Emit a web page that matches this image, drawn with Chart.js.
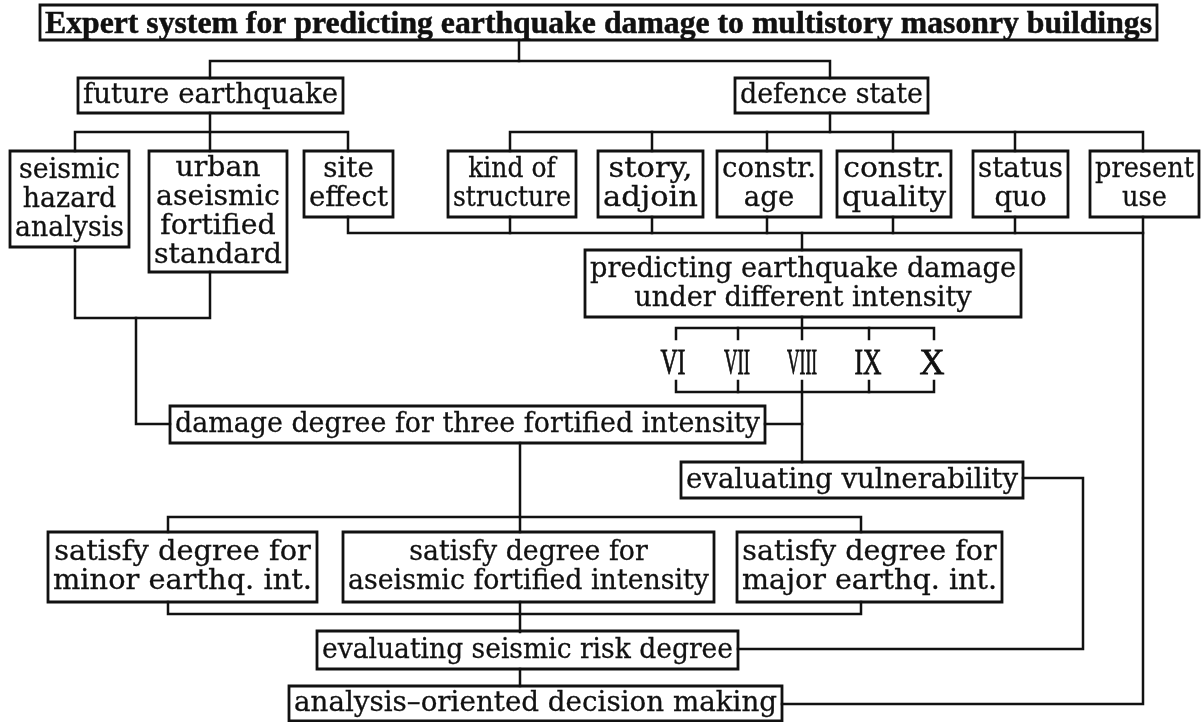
<!DOCTYPE html>
<html>
<head>
<meta charset="utf-8">
<script src="https://cdn.jsdelivr.net/npm/chart.js@4.4.1/dist/chart.umd.min.js"></script>
<style>
html,body{margin:0;padding:0;background:#fff;}
canvas{display:block;}
</style>
</head>
<body>
<canvas id="c" width="1201" height="722"></canvas>
<script>
// ---- Diagram content ----
const nodeText = [
  ["Expert system for predicting earthquake damage to multistory masonry buildings"],
  ["future earthquake"],
  ["defence state"],
  ["seismic","hazard","analysis"],
  ["urban","aseismic","fortified","standard"],
  ["site","effect"],
  ["kind of","structure"],
  ["story,","adjoin"],
  ["constr.","age"],
  ["constr.","quality"],
  ["status","quo"],
  ["present","use"],
  ["predicting earthquake damage","under different intensity"],
  ["damage degree for three fortified intensity"],
  ["evaluating vulnerability"],
  ["satisfy degree for","minor earthq. int."],
  ["satisfy degree for","aseismic fortified intensity"],
  ["satisfy degree for","major earthq. int."],
  ["evaluating seismic risk degree"],
  ["analysis\u2013oriented decision making"]
];
const intensityLabels = ["VI","VII","VIII","IX","X"];

// ---- Diagram layout (diagram units, drawn through the chart's scales) ----
const nodeLeft   = [40, 78, 735, 10, 149, 304, 448, 598, 717, 837, 973, 1090, 585, 170, 681, 48, 343, 737, 317, 289];
const nodeRight  = [1157,343, 928,129, 287, 393, 576, 703, 821, 951,1068, 1199,1021, 765,1023,317, 714,1002, 738, 782];
const nodeTop    = [5, 78, 78, 151, 151, 151, 151, 151, 151, 151, 151, 151, 250, 406, 462, 532, 532, 532, 631, 686];
const nodeBottom = [40,113,113, 247, 272, 217, 217, 217, 217, 217, 217, 217, 317, 443, 498, 602, 602, 602, 669, 721];
const intensityX = [673, 737, 802, 868, 932];
const intensityW = [25, 26, 30, 27, 25];
const intensityBaseline = 374;

const links = [
  [[519,40],[519,61]],
  [[210,78],[210,61],[830,61],[830,78]],
  [[210,113],[210,151]],
  [[75,151],[75,132],[348,132],[348,151]],
  [[830,113],[830,132]],
  [[510,151],[510,132],[1143,132],[1143,151]],
  [[652,132],[652,151]],[[767,132],[767,151]],[[893,132],[893,151]],[[1015,132],[1015,151]],
  [[348,217],[348,233],[1143,233]],
  [[510,217],[510,233]],[[652,217],[652,233]],[[767,217],[767,233]],[[893,217],[893,233]],[[1015,217],[1015,233]],
  [[1143,217],[1143,704],[782,704]],
  [[802,233],[802,250]],
  [[802,317],[802,339]],
  [[676,339],[676,328],[934,328],[934,339]],
  [[738,328],[738,339]],[[869,328],[869,339]],
  [[676,381],[676,392],[934,392],[934,381]],
  [[738,381],[738,392]],[[869,381],[869,392]],
  [[802,381],[802,462]],
  [[765,424],[802,424]],
  [[75,247],[75,318],[210,318],[210,272]],
  [[136,318],[136,424],[170,424]],
  [[520,443],[520,532]],
  [[168,532],[168,517],[861,517],[861,532]],
  [[168,602],[168,614],[861,614],[861,602]],
  [[520,602],[520,632]],
  [[738,649],[1083,649],[1083,478],[1023,478]],
  [[520,669],[520,686]]
];

const INK = '#111111';
const datasets = [];
links.forEach(path => {
  datasets.push({
    data: path.map(p => ({x:p[0], y:p[1]})),
    showLine: true, borderColor: INK, borderWidth: 2.5, pointRadius: 0,
    tension: 0, fill: false, borderJoinStyle: 'miter', borderCapStyle: 'square'
  });
});
nodeText.forEach((t, i) => {
  const l = nodeLeft[i], r = nodeRight[i], tp = nodeTop[i], b = nodeBottom[i];
  datasets.push({
    data: [{x:l,y:tp},{x:r,y:tp},{x:r,y:b},{x:l,y:b},{x:l,y:tp}],
    showLine: true, borderColor: INK, borderWidth: 2.8, pointRadius: 0,
    tension: 0, fill: false, borderJoinStyle: 'miter', borderCapStyle: 'square'
  });
});

const textPlugin = {
  id: 'boxText',
  afterDatasetsDraw(chart) {
    const ctx = chart.ctx;
    const xs = chart.scales.x, ys = chart.scales.y;
    ctx.save();
    ctx.fillStyle = INK;
    ctx.strokeStyle = INK;
    ctx.textAlign = 'center';
    ctx.textBaseline = 'alphabetic';
    nodeText.forEach((lines, i) => {
      const isTitle = i === 0;
      const fs = isTitle ? 32 : 27;
      const lh = 29;
      ctx.font = (isTitle ? 'bold ' : '') + fs + 'px ' + (isTitle ? '"Liberation Serif"' : '"DejaVu Serif"');
      const L = xs.getPixelForValue(nodeLeft[i]), R = xs.getPixelForValue(nodeRight[i]);
      const T = ys.getPixelForValue(nodeTop[i]), B = ys.getPixelForValue(nodeBottom[i]);
      const cx = (L + R) / 2, cy = (T + B) / 2;
      let maxW = 0;
      lines.forEach(s => { maxW = Math.max(maxW, ctx.measureText(s).width); });
      let sc = (R - L - 10) / maxW;
      sc = Math.max(0.75, Math.min(1.25, sc));
      const n = lines.length;
      lines.forEach((s, k) => {
        const by = cy + (k - (n - 1) / 2) * lh + (isTitle ? 0.33 : 0.28) * fs;
        ctx.save();
        ctx.translate(cx, by);
        ctx.scale(sc, 1);
        ctx.fillText(s, 0, 0);
        ctx.lineWidth = isTitle ? 0.5 : 0.3;
        ctx.strokeText(s, 0, 0);
        ctx.restore();
      });
    });
    ctx.font = '35px "Liberation Serif"';
    intensityLabels.forEach((s, k) => {
      const w = ctx.measureText(s).width;
      const px = xs.getPixelForValue(intensityX[k]);
      const py = ys.getPixelForValue(intensityBaseline);
      ctx.save();
      ctx.translate(px, py);
      ctx.scale(intensityW[k] / w, 1);
      ctx.fillText(s, 0, 0);
      ctx.lineWidth = 0.8;
      ctx.strokeText(s, 0, 0);
      ctx.restore();
    });
    ctx.restore();
  }
};

new Chart(document.getElementById('c'), {
  type: 'scatter',
  data: { datasets },
  options: {
    responsive: false,
    animation: false,
    devicePixelRatio: 1,
    layout: { padding: 0 },
    plugins: { legend: { display: false }, tooltip: { enabled: false } },
    scales: {
      x: { type: 'linear', min: 0, max: 1201, display: false },
      y: { type: 'linear', min: 0, max: 722, reverse: true, display: false }
    }
  },
  plugins: [textPlugin]
});
</script>
</body>
</html>
